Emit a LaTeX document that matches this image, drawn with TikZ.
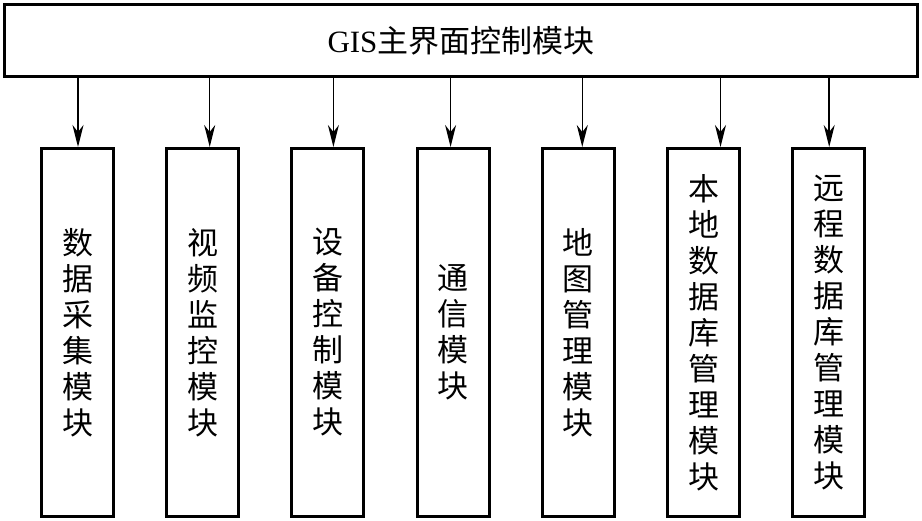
\documentclass[tikz,border=0pt]{standalone}
\usepackage{fontspec}
\setmainfont{Liberation Serif}
\newfontfamily\cjk{Noto Sans CJK SC}
\usetikzlibrary{positioning,arrows.meta}
\tikzset{
  >={Stealth[length=22pt,width=11pt,inset=7pt]},
}

\begin{document}
\begin{tikzpicture}[
  x=1pt,y=1pt,
  every node/.style={font=\cjk\fontsize{31}{36}\selectfont},
  mainbox/.style={draw,line width=3pt,outer sep=0pt,
    minimum width=913pt,minimum height=72pt},
  modbox/.style={draw,line width=3pt,outer sep=0pt,align=center,
    minimum width=72pt,minimum height=368pt},
  node distance=53.2pt
]
\useasboundingbox (0,0) rectangle (922,520);

\node[mainbox] (top) at (461,479.5) {\textrm{GIS}主界面控制模块};

\node[modbox] (m1) at (77.5,187.5) {数\\据\\采\\集\\模\\块};
\node[modbox,right=of m1] (m2) {视\\频\\监\\控\\模\\块};
\node[modbox,right=of m2] (m3) {设\\备\\控\\制\\模\\块};
\node[modbox,right=of m3] (m4) {通\\信\\模\\块};
\node[modbox,right=of m4] (m5) {地\\图\\管\\理\\模\\块};
\node[modbox,right=of m5] (m6) {本\\地\\数\\据\\库\\管\\理\\模\\块};
\node[modbox,right=of m6] (m7) {远\\程\\数\\据\\库\\管\\理\\模\\块};

% arrows do not sit exactly on the box centres
\foreach \b/\dx in {m1/0.5,m2/7,m3/5.5,m4/-2.5,m5/4,m6/17,m7/0.5}
  \draw[->,line width=1.5pt,shorten >=1.5pt]
    ([xshift=\dx pt]top.south -| \b.north) -- ([xshift=\dx pt]\b.north);

\end{tikzpicture}
\end{document}
